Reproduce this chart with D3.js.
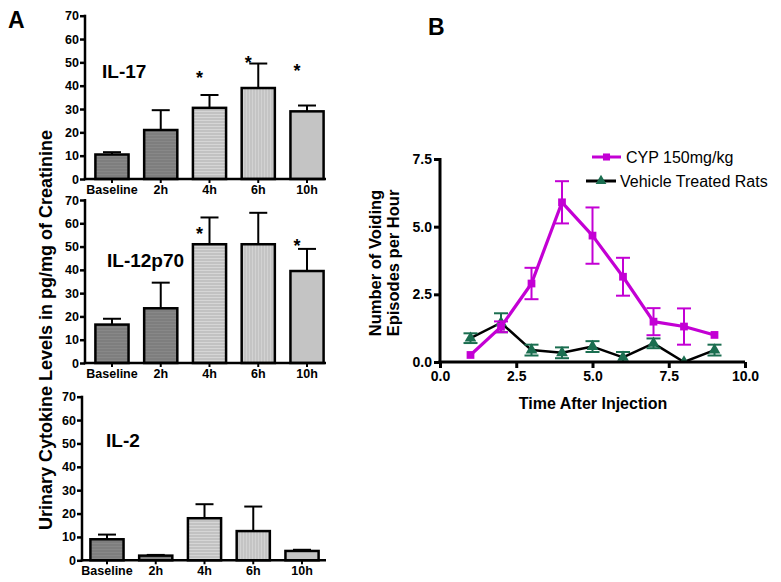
<!DOCTYPE html>
<html><head><meta charset="utf-8">
<script src="https://cdn.jsdelivr.net/npm/d3@7/dist/d3.min.js"></script>
<style>body{margin:0;background:#fff}svg{display:block}text{font-family:"Liberation Sans",Arial,sans-serif}</style>
</head><body><svg id="c" width="781" height="582"></svg>
<script>
// ---------- DATA ----------
const categories = ["Baseline", "2h", "4h", "6h", "10h"];
const barTicks = [0, 10, 20, 30, 40, 50, 60, 70];

const il17Mean = [10.5, 21, 30.5, 39, 29];
const il17Err  = [1.0, 8.5, 5.5, 10.5, 2.5];
const il17Stars = [["4h", 45], ["6h", 51.4], ["10h", 48]];

const il12Mean = [16.5, 23.5, 51, 51, 39.5];
const il12Err  = [2.5, 11, 11.5, 13.5, 9.5];
const il12Stars = [["4h", 57.1], ["10h", 52]];

const il2Mean = [9, 2, 18, 12.5, 4];
const il2Err  = [2, 0.3, 6, 10.5, 0.5];
const il2Stars = [];

const timeX   = [1, 2, 3, 4, 5, 6, 7, 8, 9];
const cypMean = [0.26, 1.3, 2.9, 5.9, 4.67, 3.15, 1.49, 1.31, 1.0];
const cypErr  = [0.05, 0.2, 0.58, 0.78, 1.04, 0.7, 0.5, 0.67, 0.05];
const vehMean = [0.88, 1.45, 0.44, 0.34, 0.57, 0.17, 0.69, 0, 0.44];
const vehErr  = [0.18, 0.35, 0.2, 0.2, 0.2, 0.2, 0.18, 0, 0.2];
const bXTicks = [0, 2.5, 5, 7.5, 10];
const bYTicks = [0, 2.5, 5, 7.5];
const seriesNames = ["CYP 150mg/kg", "Vehicle Treated Rats"];

// ---------- DRAW ----------
const svg = d3.select("#c");
const F = '"Liberation Sans",Arial,sans-serif';

// patterns
const defs = svg.append("defs");
function pat(id, bg, line, horiz) {
  const p = defs.append("pattern").attr("id", id).attr("patternUnits", "userSpaceOnUse")
    .attr("width", 3).attr("height", 3);
  p.append("rect").attr("width", 3).attr("height", 3).attr("fill", bg);
  if (horiz) p.append("rect").attr("width", 3).attr("height", 1).attr("fill", line);
  else p.append("rect").attr("width", 1).attr("height", 3).attr("fill", line);
}
pat("pDark", "#7e7e7e", "#888888", true);
pat("pHor", "#c2c2c2", "#d6d6d6", true);
pat("pVer", "#c4c4c4", "#d2d2d2", false);
const fills = ["url(#pDark)", "url(#pDark)", "url(#pHor)", "url(#pVer)", "#c4c4c4"];

function barPanel(o) {
  const g = svg.append("g");
  const x = d3.scaleBand().domain(categories).range([o.x0, o.x1]).paddingInner(0.32).paddingOuter(0.16);
  const y = d3.scaleLinear().domain([0, 70]).range([o.yb, o.yt]);
  // bars
  categories.forEach((c, i) => {
    const top = y(o.mean[i] + o.err[i]);
    const cx = x(c) + x.bandwidth() / 2;
    g.append("line").attr("x1", cx).attr("x2", cx).attr("y1", y(o.mean[i])).attr("y2", top)
      .attr("stroke", "#000").attr("stroke-width", 2);
    g.append("line").attr("x1", cx - 9).attr("x2", cx + 9).attr("y1", top).attr("y2", top)
      .attr("stroke", "#000").attr("stroke-width", 2);
    g.append("rect").attr("x", x(c)).attr("width", x.bandwidth())
      .attr("y", y(o.mean[i])).attr("height", y(0) - y(o.mean[i]))
      .attr("fill", fills[i]).attr("stroke", "#000").attr("stroke-width", 2.5);
  });
  // y axis
  const ya = g.append("g").attr("transform", `translate(${o.ax},0)`)
    .call(d3.axisLeft(y).tickValues(barTicks).tickSize(5).tickPadding(1).tickFormat(d3.format("d")));
  ya.select(".domain").remove();
  ya.selectAll(".tick line").attr("stroke-width", 2.5);
  ya.selectAll("text").attr("font-size", 12.5).attr("font-weight", "bold").attr("font-family", F).attr("fill", "#000");
  g.append("line").attr("x1", o.ax).attr("x2", o.ax).attr("y1", y(70) - 1).attr("y2", y(0) + 1.2)
    .attr("stroke", "#000").attr("stroke-width", 2.5);
  // x axis
  const xa = g.append("g").attr("transform", `translate(0,${y(0)})`)
    .call(d3.axisBottom(x).tickSize(4).tickPadding(2));
  xa.select(".domain").remove();
  xa.selectAll(".tick line").attr("stroke-width", 2);
  xa.selectAll("text").attr("font-size", 12.5).attr("font-weight", "bold").attr("font-family", F).attr("fill", "#000");
  g.append("line").attr("x1", o.ax - 1.2).attr("x2", 326).attr("y1", y(0)).attr("y2", y(0))
    .attr("stroke", "#000").attr("stroke-width", 2.5);
  // stars
  o.stars.forEach(([c, v]) => {
    g.append("text").attr("x", x(c) + x.bandwidth() / 2 - 10).attr("y", y(v) + 10)
      .attr("text-anchor", "middle").attr("font-size", 18).attr("font-weight", "bold").text("*");
  });
  // title
  g.append("text").attr("x", o.tx).attr("y", o.ty).attr("font-size", 19).attr("font-weight", "bold").text(o.title);
}

barPanel({x0: 87.6, x1: 331.4, ax: 85, yt: 15.7, yb: 179, mean: il17Mean, err: il17Err, stars: il17Stars, title: "IL-17", tx: 102, ty: 78});
barPanel({x0: 87.6, x1: 331.4, ax: 85, yt: 200, yb: 363, mean: il12Mean, err: il12Err, stars: il12Stars, title: "IL-12p70", tx: 107, ty: 267});
barPanel({x0: 82.6, x1: 326.4, ax: 82, yt: 396.7, yb: 560.3, mean: il2Mean, err: il2Err, stars: il2Stars, title: "IL-2", tx: 106, ty: 447});

svg.append("text").attr("transform", "translate(52,330) rotate(-90)").attr("text-anchor", "middle")
  .attr("font-size", 18).attr("font-weight", "bold").text("Urinary Cytokine Levels in pg/mg of Creatinine");
svg.append("text").attr("x", 8).attr("y", 28).attr("font-size", 23).attr("font-weight", "bold").text("A");
svg.append("text").attr("x", 428).attr("y", 35).attr("font-size", 23).attr("font-weight", "bold").text("B");

// ---------- PANEL B ----------
const magenta = "#c300d4", green = "#1b6e50";
const bx = d3.scaleLinear().domain([0, 10]).range([440, 745]);
const by = d3.scaleLinear().domain([0, 7.5]).range([362, 159]);
const gb = svg.append("g");
defs.append("clipPath").attr("id", "clipB").append("rect").attr("x", 430).attr("y", 140).attr("width", 330).attr("height", 222);

const xaB = gb.append("g").attr("transform", `translate(0,362)`)
  .call(d3.axisBottom(bx).tickValues(bXTicks).tickSize(6).tickPadding(3).tickFormat(d3.format(".1f")));
xaB.select(".domain").remove();
xaB.selectAll(".tick line").attr("stroke-width", 3);
xaB.selectAll("text").attr("font-size", 14).attr("font-weight", "bold").attr("font-family", F).attr("fill", "#000");
const yaB = gb.append("g").attr("transform", `translate(440,0)`)
  .call(d3.axisLeft(by).tickValues(bYTicks).tickSize(6).tickPadding(2).tickFormat(d3.format(".1f")));
yaB.select(".domain").remove();
yaB.selectAll(".tick line").attr("stroke-width", 3);
yaB.selectAll("text").attr("font-size", 14).attr("font-weight", "bold").attr("font-family", F).attr("fill", "#000");

function series(mean, err, lineColor, lineW, markColor, sym, size) {
  const g = gb.append("g").attr("clip-path", "url(#clipB)");
  const pts = timeX.map((t, i) => [t, mean[i], err[i]]);
  g.append("path").attr("d", d3.line().x(d => bx(d[0])).y(d => by(d[1]))(pts))
    .attr("fill", "none").attr("stroke", lineColor).attr("stroke-width", lineW).attr("stroke-linejoin", "round");
  pts.forEach(d => {
    if (d[2] > 0.08) {
      const cx = bx(d[0]);
      g.append("line").attr("x1", cx).attr("x2", cx).attr("y1", by(d[1] - d[2])).attr("y2", by(d[1] + d[2]))
        .attr("stroke", markColor).attr("stroke-width", 2);
      [d[1] - d[2], d[1] + d[2]].forEach(v => g.append("line").attr("x1", cx - 7).attr("x2", cx + 7)
        .attr("y1", by(v)).attr("y2", by(v)).attr("stroke", markColor).attr("stroke-width", 2));
    }
    g.append("path").attr("d", d3.symbol().type(sym).size(size)())
      .attr("transform", `translate(${bx(d[0])},${by(d[1])})`).attr("fill", markColor);
  });
}
series(vehMean, vehErr, "#000", 2.5, green, d3.symbolTriangle, 60);
series(cypMean, cypErr, magenta, 3.2, magenta, d3.symbolSquare, 60);

gb.append("line").attr("x1", 440).attr("x2", 440).attr("y1", 158).attr("y2", 363.5).attr("stroke", "#000").attr("stroke-width", 3);
gb.append("line").attr("x1", 438.5).attr("x2", 745).attr("y1", 362).attr("y2", 362).attr("stroke", "#000").attr("stroke-width", 3);

gb.append("text").attr("x", 593).attr("y", 409).attr("text-anchor", "middle").attr("font-size", 16).attr("font-weight", "bold").text("Time After Injection");
gb.append("text").attr("transform", "translate(381,263) rotate(-90)").attr("text-anchor", "middle").attr("font-size", 16.5).attr("font-weight", "bold").text("Number of Voiding");
gb.append("text").attr("transform", "translate(399,263) rotate(-90)").attr("text-anchor", "middle").attr("font-size", 16.5).attr("font-weight", "bold").text("Episodes per Hour");

// legend
const leg = [
  {name: seriesNames[0], lc: magenta, mc: magenta, sym: d3.symbolSquare, x1: 592, x2: 621, y: 157, tx: 626},
  {name: seriesNames[1], lc: "#000", mc: green, sym: d3.symbolTriangle, x1: 586, x2: 616, y: 181, tx: 620}
];
leg.forEach(l => {
  gb.append("line").attr("x1", l.x1).attr("x2", l.x2).attr("y1", l.y).attr("y2", l.y).attr("stroke", l.lc).attr("stroke-width", 3);
  gb.append("path").attr("d", d3.symbol().type(l.sym).size(50)()).attr("transform", `translate(${(l.x1 + l.x2) / 2},${l.y})`).attr("fill", l.mc);
  gb.append("text").attr("x", l.tx).attr("y", l.y + 6).attr("font-size", 16).text(l.name);
});
</script></body></html>
